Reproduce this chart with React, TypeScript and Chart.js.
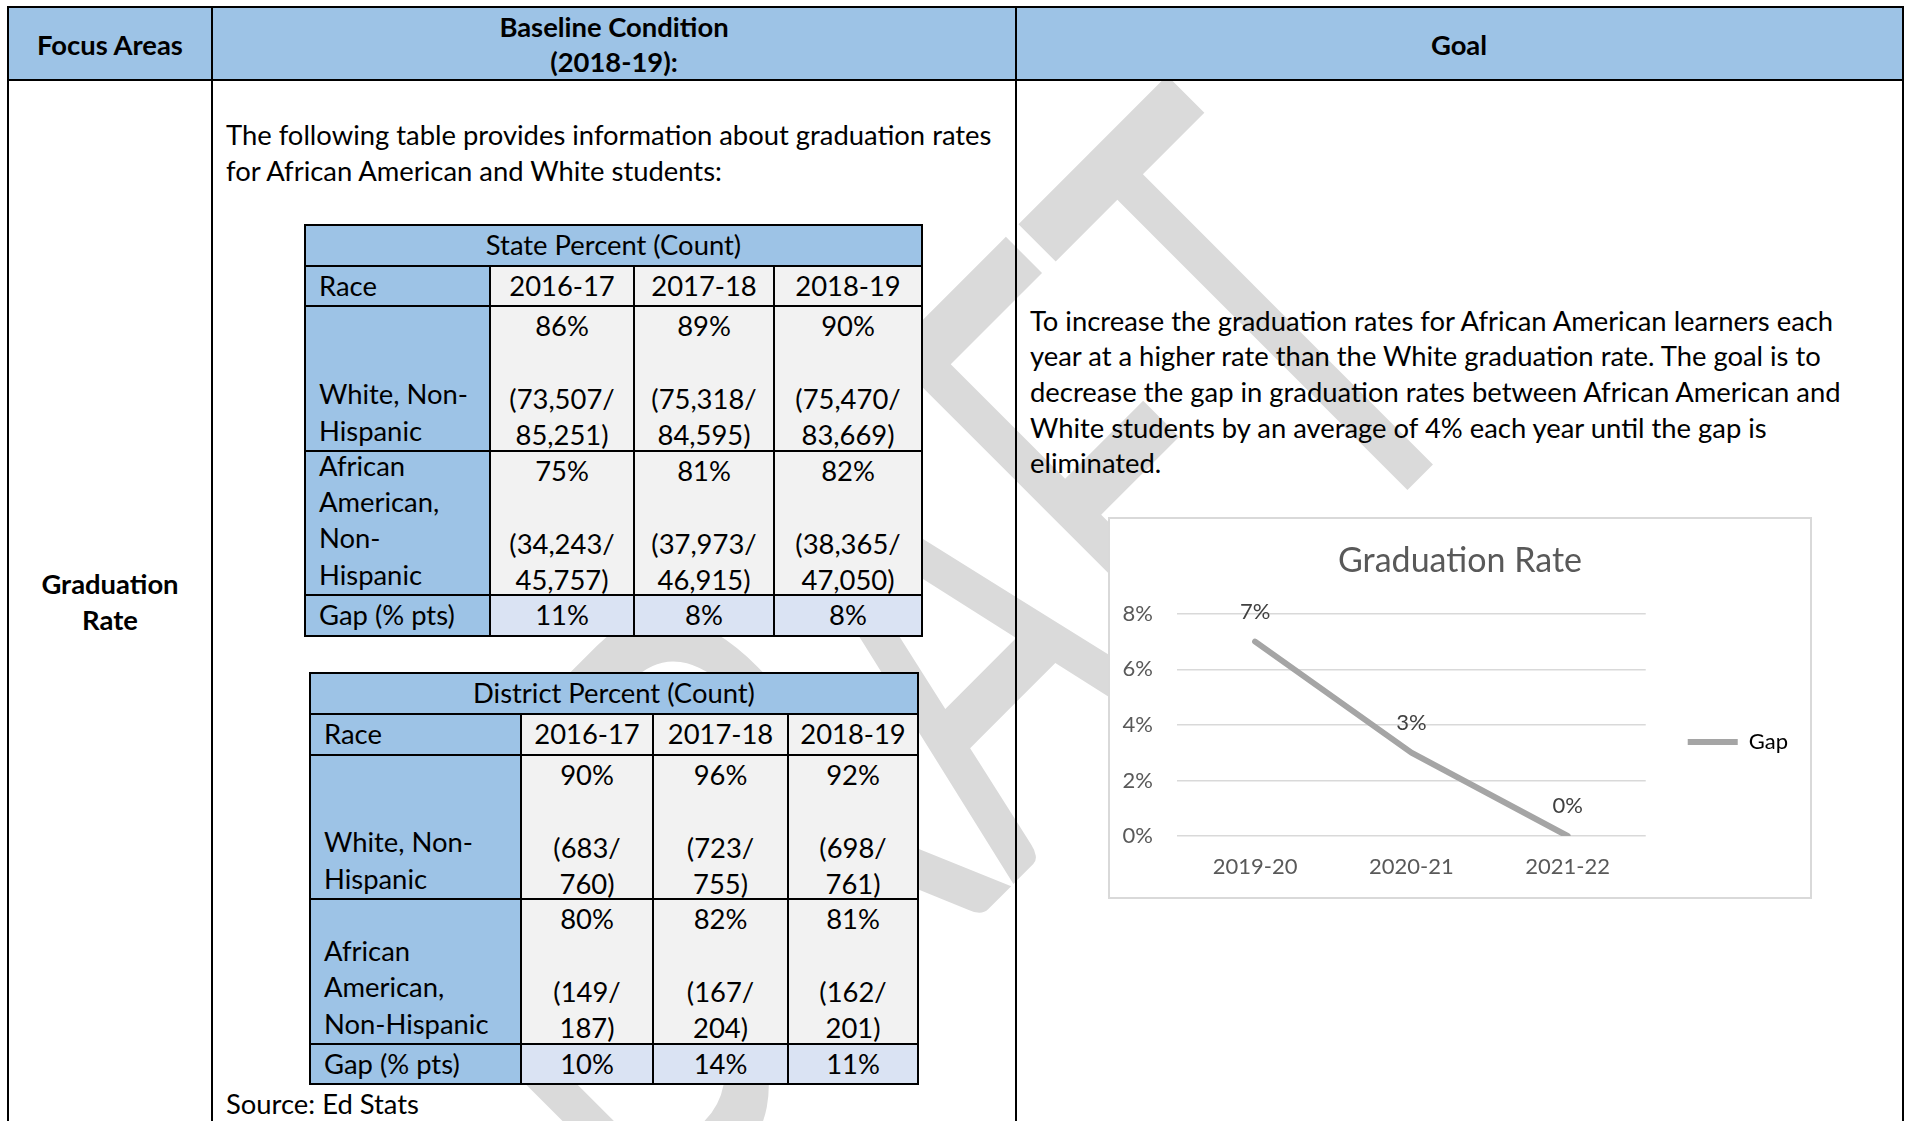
import React, { useEffect, useRef } from 'react';
import { Chart, registerables } from 'chart.js';

Chart.register(...registerables);

// ---------- data ----------
const tableYears = ['2016-17', '2017-18', '2018-19'];

const statePctWhite = [86, 89, 90];
const stateCountWhite = ['73,507', '75,318', '75,470'];
const stateTotalWhite = ['85,251', '84,595', '83,669'];
const statePctAA = [75, 81, 82];
const stateCountAA = ['34,243', '37,973', '38,365'];
const stateTotalAA = ['45,757', '46,915', '47,050'];
const stateGap = [11, 8, 8];

const districtPctWhite = [90, 96, 92];
const districtCountWhite = ['683', '723', '698'];
const districtTotalWhite = ['760', '755', '761'];
const districtPctAA = [80, 82, 81];
const districtCountAA = ['149', '167', '162'];
const districtTotalAA = ['187', '204', '201'];
const districtGap = [10, 14, 11];

const goalYears = ['2019-20', '2020-21', '2021-22'];
const goalGap = [7, 3, 0];
const goalAxisMax = 8;
const goalAxisStep = 2;

// ---------- style constants ----------
const FONT = 'Lato, "Noto Sans", sans-serif';
const CFONT = 'Lato';
const FS = 27.4;
const LH = 36.3;
const BLUE = '#9DC3E6';
const GREY = '#F2F2F2';
const LBLUE = '#DAE3F3';

type LineProps = { x: number; cy: number; text: string; center?: boolean; bold?: boolean };

function TextLine({ x, cy, text, center, bold }: LineProps) {
  const style: React.CSSProperties = {
    position: 'absolute',
    top: cy - LH / 2,
    left: x,
    height: LH,
    lineHeight: LH + 'px',
    whiteSpace: 'nowrap',
    fontSize: FS,
    fontWeight: bold ? 700 : 400,
    color: '#000',
    zIndex: 2,
  };
  if (center) style.transform = 'translateX(-50%)';
  return <div style={style}>{text}</div>;
}

type CellProps = {
  xe: number[];
  ye: number[];
  c0: number;
  c1: number;
  r: number;
  bg: string;
  lines: string[];
  center?: boolean;
  bottom?: boolean;
};

function Cell({ xe, ye, c0, c1, r, bg, lines, center, bottom }: CellProps) {
  const style: React.CSSProperties = {
    position: 'absolute',
    left: xe[c0] - 1,
    top: ye[r] - 1,
    width: xe[c1] - xe[c0] + 2,
    height: ye[r + 1] - ye[r] + 2,
    boxSizing: 'border-box',
    border: '2px solid #000',
    background: bg,
    display: 'flex',
    flexDirection: 'column',
    justifyContent: bottom ? 'flex-end' : 'flex-start',
    padding: center ? '1px 0px' : '1px 13px',
    lineHeight: LH + 'px',
    fontSize: FS,
    textAlign: center ? 'center' : 'left',
    whiteSpace: 'nowrap',
    zIndex: 2,
  };
  return (
    <div style={style}>
      {lines.map((l, i) => (
        <div key={i} style={{ height: LH }}>{l === '' ? '\u00a0' : l}</div>
      ))}
    </div>
  );
}

type TableProps = {
  xe: number[];
  ye: number[];
  title: string;
  whiteLabel: string[];
  aaLabel: string[];
  whitePct: number[];
  whiteCount: string[];
  whiteTotal: string[];
  aaPct: number[];
  aaCount: string[];
  aaTotal: string[];
  gap: number[];
};

function RateTable(p: TableProps) {
  const cells: React.ReactNode[] = [];
  cells.push(<Cell key="t" xe={p.xe} ye={p.ye} c0={0} c1={4} r={0} bg={BLUE} lines={[p.title]} center />);
  cells.push(<Cell key="race" xe={p.xe} ye={p.ye} c0={0} c1={1} r={1} bg={BLUE} lines={['Race']} />);
  cells.push(<Cell key="wl" xe={p.xe} ye={p.ye} c0={0} c1={1} r={2} bg={BLUE} lines={p.whiteLabel} bottom />);
  cells.push(<Cell key="al" xe={p.xe} ye={p.ye} c0={0} c1={1} r={3} bg={BLUE} lines={p.aaLabel} bottom />);
  cells.push(<Cell key="gl" xe={p.xe} ye={p.ye} c0={0} c1={1} r={4} bg={BLUE} lines={['Gap (% pts)']} />);
  tableYears.forEach((yr, i) => {
    cells.push(<Cell key={'y' + i} xe={p.xe} ye={p.ye} c0={i + 1} c1={i + 2} r={1} bg={GREY} lines={[yr]} center />);
    cells.push(
      <Cell key={'w' + i} xe={p.xe} ye={p.ye} c0={i + 1} c1={i + 2} r={2} bg={GREY} center
        lines={[p.whitePct[i] + '%', '', '(' + p.whiteCount[i] + '/', p.whiteTotal[i] + ')']} />
    );
    cells.push(
      <Cell key={'a' + i} xe={p.xe} ye={p.ye} c0={i + 1} c1={i + 2} r={3} bg={GREY} center
        lines={[p.aaPct[i] + '%', '', '(' + p.aaCount[i] + '/', p.aaTotal[i] + ')']} />
    );
    cells.push(<Cell key={'g' + i} xe={p.xe} ye={p.ye} c0={i + 1} c1={i + 2} r={4} bg={LBLUE} lines={[p.gap[i] + '%']} center />);
  });
  return <>{cells}</>;
}

const dataLabelPlugin = {
  id: 'gapDataLabels',
  afterLayout(chart: any) {
    // move the right-hand legend down so it sits where the original one sits
    const lg = chart.legend;
    if (lg) {
      lg.top += 41.5;
      lg.bottom += 41.5;
    }
  },
  afterDatasetsDraw(chart: any) {
    const ctx = chart.ctx;
    const meta = chart.getDatasetMeta(0);
    const values = chart.data.datasets[0].data;
    ctx.save();
    ctx.font = '22px ' + CFONT;
    ctx.fillStyle = '#404040';
    ctx.textAlign = 'center';
    ctx.textBaseline = 'middle';
    meta.data.forEach((el: any, i: number) => {
      ctx.fillText(values[i] + '%', el.x, el.y - 30);
    });
    ctx.restore();
  },
};

function GapChart() {
  const ref = useRef<HTMLCanvasElement>(null);
  useEffect(() => {
    if (!ref.current) return;
    const tickFont = { family: CFONT, size: 22 };
    const chart = new Chart(ref.current, {
      type: 'line',
      data: {
        labels: goalYears,
        datasets: [
          {
            label: 'Gap',
            data: goalGap,
            borderColor: '#A5A5A5',
            backgroundColor: '#A5A5A5',
            borderWidth: 6,
            pointRadius: 0,
            pointHoverRadius: 0,
            borderCapStyle: 'round',
            borderJoinStyle: 'round',
            tension: 0,
          } as any,
        ],
      },
      options: {
        animation: false,
        responsive: false,
        maintainAspectRatio: false,
        devicePixelRatio: 1,
        events: [],
        layout: { padding: { left: 12, right: 12, top: 0, bottom: 15 } },
        plugins: {
          title: {
            display: true,
            text: 'Graduation Rate',
            color: '#595959',
            font: { family: CFONT, size: 34, weight: 'normal' as any },
            padding: { top: 22, bottom: 32 },
          },
          legend: {
            display: true,
            position: 'right',
            labels: {
              boxWidth: 50,
              boxHeight: 6,
              padding: 42,
              color: '#595959',
              font: tickFont,
              generateLabels: () => [
                {
                  text: 'Gap',
                  fillStyle: '#A5A5A5',
                  strokeStyle: '#A5A5A5',
                  lineWidth: 0,
                  hidden: false,
                  datasetIndex: 0,
                } as any,
              ],
            },
          },
          tooltip: { enabled: false },
        },
        scales: {
          x: {
            offset: true,
            grid: { display: false, drawTicks: false },
            border: { display: false },
            ticks: { color: '#595959', font: tickFont, padding: 18 },
            afterFit: (s: any) => {
              s.height = 46;
            },
          },
          y: {
            min: 0,
            max: goalAxisMax,
            ticks: {
              stepSize: goalAxisStep,
              color: '#595959',
              font: tickFont,
              padding: 24,
              callback: (v: any) => v + '%',
            },
            grid: { color: '#D9D9D9', lineWidth: 1.5, drawTicks: false },
            border: { display: false },
            afterFit: (s: any) => {
              s.width = 55;
            },
          },
        },
      },
      plugins: [dataLabelPlugin],
    });
    return () => chart.destroy();
  }, []);
  return <canvas ref={ref} width={700} height={378} style={{ display: 'block', width: 700, height: 378 }} />;
}

export default function App() {
  const rule = (l: number, t: number, w: number, h: number): React.CSSProperties => ({
    position: 'absolute', left: l, top: t, width: w, height: h, background: '#000', zIndex: 3,
  });
  return (
    <div style={{ position: 'absolute', left: 0, top: 0, width: 1907, height: 1121, overflow: 'hidden', background: '#fff', fontFamily: FONT, color: '#000' }}>
      {/* watermark */}
      <div
        style={{
          position: 'absolute', left: 240, top: 847, fontFamily: FONT, fontSize: 646, lineHeight: '646px',
          color: '#DADADA', whiteSpace: 'nowrap', transformOrigin: '0 0', transform: 'rotate(-45deg) scaleX(0.58)', zIndex: 0,
        }}
      >
        DRAFT
      </div>

      {/* header band */}
      <div style={{ position: 'absolute', left: 8, top: 7, width: 1895, height: 73, background: BLUE, zIndex: 1 }} />
      <div style={rule(7, 6, 1897, 2)} />
      <div style={rule(7, 79, 1897, 2)} />
      <div style={rule(7, 6, 2, 1121)} />
      <div style={rule(211, 6, 2, 1121)} />
      <div style={rule(1015, 6, 2, 1121)} />
      <div style={rule(1902, 6, 2, 1121)} />

      <TextLine x={110} cy={45} text="Focus Areas" center bold />
      <TextLine x={614} cy={27} text="Baseline Condition" center bold />
      <TextLine x={614} cy={62} text="(2018-19):" center bold />
      <TextLine x={1459} cy={45} text="Goal" center bold />

      <TextLine x={110} cy={584} text="Graduation" center bold />
      <TextLine x={110} cy={620} text="Rate" center bold />

      <TextLine x={226} cy={135} text="The following table provides information about graduation rates" />
      <TextLine x={226} cy={171} text="for African American and White students:" />

      <RateTable
        xe={[305, 490, 634, 774, 922]}
        ye={[225, 266, 306, 451, 595, 636]}
        title="State Percent (Count)"
        whiteLabel={['White, Non-', 'Hispanic']}
        aaLabel={['African', 'American,', 'Non-', 'Hispanic']}
        whitePct={statePctWhite}
        whiteCount={stateCountWhite}
        whiteTotal={stateTotalWhite}
        aaPct={statePctAA}
        aaCount={stateCountAA}
        aaTotal={stateTotalAA}
        gap={stateGap}
      />

      <RateTable
        xe={[310, 521, 653, 788, 918]}
        ye={[673, 714, 755, 899, 1044, 1084]}
        title="District Percent (Count)"
        whiteLabel={['White, Non-', 'Hispanic']}
        aaLabel={['African', 'American,', 'Non-Hispanic']}
        whitePct={districtPctWhite}
        whiteCount={districtCountWhite}
        whiteTotal={districtTotalWhite}
        aaPct={districtPctAA}
        aaCount={districtCountAA}
        aaTotal={districtTotalAA}
        gap={districtGap}
      />

      <TextLine x={226} cy={1104} text="Source: Ed Stats" />

      <TextLine x={1030} cy={321} text="To increase the graduation rates for African American learners each" />
      <TextLine x={1030} cy={356.5} text="year at a higher rate than the White graduation rate. The goal is to" />
      <TextLine x={1030} cy={392} text="decrease the gap in graduation rates between African American and" />
      <TextLine x={1030} cy={428} text="White students by an average of 4% each year until the gap is" />
      <TextLine x={1030} cy={463} text="eliminated." />

      <div
        style={{
          position: 'absolute', left: 1108, top: 517, width: 704, height: 382, boxSizing: 'border-box',
          border: '2px solid #D9D9D9', background: '#fff', zIndex: 2,
        }}
      >
        <GapChart />
      </div>
    </div>
  );
}
